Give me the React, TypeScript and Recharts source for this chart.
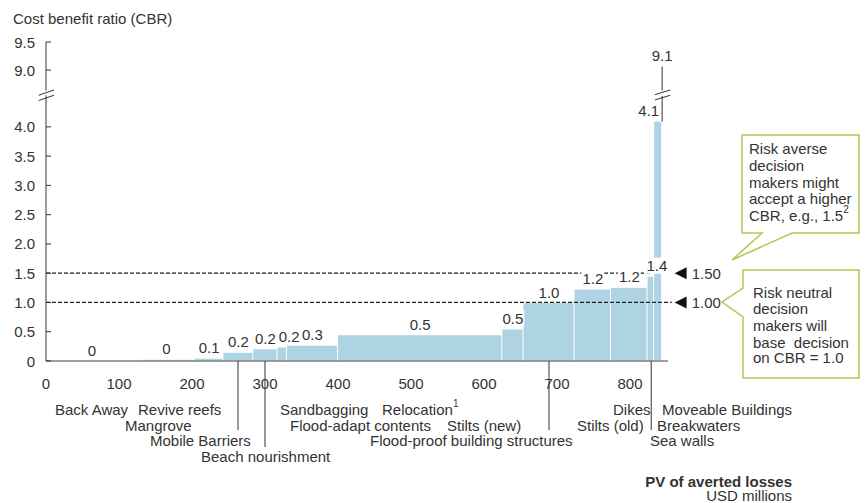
import React from "react";
import {
  ComposedChart,
  Line,
  XAxis,
  YAxis,
  ReferenceArea,
  ReferenceLine,
  ReferenceDot,
} from "recharts";

// adaptation measures, sorted by cost benefit ratio; bar width = PV of averted losses (USD m)
const measureStart = [0, 126, 204, 243, 284, 317, 330, 400, 625, 654, 724, 774, 824, 833];
const measureEnd = [126, 204, 243, 284, 317, 330, 400, 625, 654, 724, 774, 824, 833, 844];
// drawn height; the last bar is cut at the axis break (real value 9.1)
const measureCbr = [0, 0.02, 0.04, 0.14, 0.2, 0.23, 0.26, 0.44, 0.54, 0.99, 1.22, 1.25, 1.44, 4.09];
const measureCbrLabel = ["0", "0", "0.1", "0.2", "0.2", "0.2", "0.3", "0.5", "0.5", "1.0", "1.2", "1.2", "1.4", "4.1"];
const cutBarValue = "9.1";

const xTicks = [0, 100, 200, 300, 400, 500, 600, 700, 800];
// axis is broken above 4.0 — 9.0 and 9.5 sit just over the break
const yTickValues = [0, 0.5, 1, 1.5, 2, 2.5, 3, 3.5, 4, 4.97, 5.45];
const yTickLabels = ["0", "0.5", "1.0", "1.5", "2.0", "2.5", "3.0", "3.5", "4.0", "9.0", "9.5"];

const thresholdValues = [1.0, 1.5];
const thresholdLabels = ["1.00", "1.50"];

const categoryNames = [
  "Back Away", "Revive reefs", "Sandbagging", "Relocation", "Dikes", "Moveable Buildings",
  "Mangrove", "Flood-adapt contents", "Stilts (new)", "Stilts (old)", "Breakwaters",
  "Mobile Barriers", "Flood-proof building structures", "Sea walls",
  "Beach nourishment",
];
// [left x, row]
const categoryPos: [number, number][] = [
  [55, 0], [138, 0], [280, 0], [382, 0], [613, 0], [662, 0],
  [125, 1], [290, 1], [447, 1], [577, 1], [657, 1],
  [150, 2], [370, 2], [650, 2],
  [201, 3],
];
const rowY = [409, 425, 440, 456];

// leader lines below the axis (x in USD m, bottom in chart units)
const leaderX = [263, 300, 689, 829];
const leaderBottom = [-1.18, -1.47, -1.18, -1.18];

const W = 867;
const H = 503;
const FONT = '"Liberation Sans", Arial, Helvetica, sans-serif';
const TEXT = "#333";
const BAR = "#aed3e3";
const GREEN = "#b2c752";
const Y_MAX = 5.45;

const YTick = (p: any) => {
  const i = yTickValues.indexOf(p.payload.value);
  return (
    <g>
      <line x1={p.x} x2={p.x + 5} y1={p.y} y2={p.y} stroke={TEXT} strokeWidth={1} />
      <text x={p.x - 11} y={p.y} textAnchor="end" dominantBaseline="central" fontSize={15} fill={TEXT} fontFamily={FONT}>
        {yTickLabels[i]}
      </text>
    </g>
  );
};

const XTick = (p: any) => (
  <text x={p.x} y={p.y + 22} textAnchor="middle" dominantBaseline="central" fontSize={15} fill={TEXT} fontFamily={FONT}>
    {p.payload.value}
  </text>
);

const nudge: Record<number, number> = { 5: 7, 12: 6 };

function ValueLabel({ cx, cy, label, dx = 0, anchor = "middle" }: any) {
  const w = label.length === 1 ? 9 : 21;
  const x = cx + dx;
  const left = anchor === "end" ? x - w : x - w / 2;
  return (
    <g>
      <rect x={left - 1} y={cy - 19} width={w + 2} height={16} fill="#fff" />
      <text x={x} y={cy - 11} textAnchor={anchor} dominantBaseline="central" fontSize={15} fill={TEXT} fontFamily={FONT}>
        {label}
      </text>
    </g>
  );
}

export default function App() {
  const data = measureStart.map((s, i) => ({ x: (s + measureEnd[i]) / 2, y: measureCbr[i] }));
  const last = measureStart.length - 1;

  return (
    <div style={{ position: "absolute", left: 0, top: 0, width: W, height: H, background: "#fff" }}>
      <ComposedChart width={W} height={H} data={data} margin={{ top: 42, right: 199, bottom: 112, left: 6 }}>
        <XAxis
          dataKey="x"
          type="number"
          domain={[0, 852]}
          ticks={xTicks}
          axisLine={false}
          tickLine={false}
          tickSize={0}
          tickMargin={0}
          tick={<XTick />}
          height={30}
        />
        <YAxis
          dataKey="y"
          type="number"
          domain={[0, Y_MAX]}
          ticks={yTickValues}
          axisLine={false}
          tickLine={false}
          tickSize={0}
          tickMargin={0}
          tick={<YTick />}
          width={40}
        />
        {/* invisible carrier series so both axes get a scale */}
        <Line dataKey="y" stroke="none" dot={false} activeDot={false} isAnimationActive={false} />

        {measureStart.map((s, i) => (
          <ReferenceArea
            key={`bar-${i}`}
            x1={s}
            x2={measureEnd[i]}
            y1={0}
            y2={measureCbr[i]}
            ifOverflow="visible"
            shape={(p: any) => (
              <rect x={p.x} y={p.y} width={Math.max(p.width - 1, 0.5)} height={p.height} fill={BAR} />
            )}
          />
        ))}

        {/* axes */}
        <ReferenceLine segment={[{ x: 0, y: 0 }, { x: 852, y: 0 }]} stroke="#808080" strokeWidth={1.5} ifOverflow="visible" />
        <ReferenceLine segment={[{ x: 0, y: 0 }, { x: 0, y: 4.54 }]} stroke={TEXT} strokeWidth={1} ifOverflow="visible" />
        <ReferenceLine segment={[{ x: 0, y: 4.62 }, { x: 0, y: Y_MAX }]} stroke={TEXT} strokeWidth={1} ifOverflow="visible" />
        <ReferenceLine segment={[{ x: -10, y: 4.45 }, { x: 11, y: 4.54 }]} stroke={TEXT} strokeWidth={1} ifOverflow="visible" />
        <ReferenceLine segment={[{ x: -10, y: 4.54 }, { x: 11, y: 4.63 }]} stroke={TEXT} strokeWidth={1} ifOverflow="visible" />

        {/* cut bar: real value above the break */}
        <ReferenceLine segment={[{ x: 844, y: measureCbr[last] }, { x: 844, y: 4.53 }]} stroke={TEXT} strokeWidth={1} ifOverflow="visible" />
        <ReferenceLine segment={[{ x: 844, y: 4.62 }, { x: 844, y: 5.03 }]} stroke={TEXT} strokeWidth={1} ifOverflow="visible" />
        <ReferenceLine segment={[{ x: 834, y: 4.46 }, { x: 855, y: 4.54 }]} stroke={TEXT} strokeWidth={1} ifOverflow="visible" />
        <ReferenceLine segment={[{ x: 834, y: 4.55 }, { x: 855, y: 4.63 }]} stroke={TEXT} strokeWidth={1} ifOverflow="visible" />

        {/* decision thresholds */}
        <ReferenceLine segment={[{ x: 0, y: 1 }, { x: 857, y: 1 }]} stroke="#222" strokeWidth={1.3} strokeDasharray="4 2" ifOverflow="visible" />
        <ReferenceLine segment={[{ x: 0, y: 1.5 }, { x: 830, y: 1.5 }]} stroke="#222" strokeWidth={1.3} strokeDasharray="4 2" ifOverflow="visible" />

        {leaderX.map((x, i) => (
          <ReferenceLine
            key={`lead-${i}`}
            segment={[{ x, y: 0 }, { x, y: leaderBottom[i] }]}
            stroke={TEXT}
            strokeWidth={1}
            ifOverflow="visible"
          />
        ))}

        {measureStart.map((s, i) => (
          <ReferenceDot
            key={`lbl-${i}`}
            x={i === last ? measureEnd[i] : (s + measureEnd[i]) / 2}
            y={measureCbr[i]}
            ifOverflow="visible"
            shape={(p: any) =>
              i === last ? (
                <ValueLabel cx={p.cx} cy={p.cy} label={measureCbrLabel[i]} dx={-3} anchor="end" />
              ) : (
                <ValueLabel cx={p.cx} cy={p.cy} label={measureCbrLabel[i]} dx={nudge[i] || 0} />
              )
            }
          />
        ))}
        <ReferenceDot
          x={844}
          y={5.03}
          ifOverflow="visible"
          shape={(p: any) => (
            <text x={p.cx} y={p.cy - 11} textAnchor="middle" dominantBaseline="central" fontSize={15} fill={TEXT} fontFamily={FONT}>
              {cutBarValue}
            </text>
          )}
        />

        {thresholdValues.map((v, i) => (
          <ReferenceDot
            key={`thr-${i}`}
            x={857}
            y={v}
            ifOverflow="visible"
            shape={(p: any) => (
              <g>
                <polygon points={`${p.cx + 3},${p.cy} ${p.cx + 15},${p.cy - 6} ${p.cx + 15},${p.cy + 6}`} fill="#111" />
                <text x={p.cx + 20} y={p.cy} dominantBaseline="central" fontSize={15} fill={TEXT} fontFamily={FONT}>
                  {thresholdLabels[i]}
                </text>
              </g>
            )}
          />
        ))}
      </ComposedChart>

      <svg width={W} height={H} style={{ position: "absolute", left: 0, top: 0, pointerEvents: "none" }}>
        <g fontFamily={FONT} fontSize={15} fill={TEXT}>
          <text x={13} y={18} dominantBaseline="central">Cost benefit ratio (CBR)</text>

          {categoryNames.map((n, i) => (
            <text key={n} x={categoryPos[i][0]} y={rowY[categoryPos[i][1]]} dominantBaseline="central">
              {n}
              {n === "Relocation" && (
                <tspan fontSize={10} dy={-6}>1</tspan>
              )}
            </text>
          ))}

          <text x={792} y={481} textAnchor="end" dominantBaseline="central" fontWeight="bold">
            PV of averted losses
          </text>
          <text x={792} y={495} textAnchor="end" dominantBaseline="central">USD millions</text>

          <path d="M742,135 H859 V233 H792 L732,260 L762,233 H742 Z" fill="#fff" stroke={GREEN} strokeWidth={1.5} />
          <text x={749} y={148} dominantBaseline="central">Risk averse</text>
          <text x={749} y={165} dominantBaseline="central">decision</text>
          <text x={749} y={182} dominantBaseline="central">makers might</text>
          <text x={749} y={198} dominantBaseline="central">accept a higher</text>
          <text x={749} y={215} dominantBaseline="central">
            CBR, e.g., 1.5<tspan fontSize={10} dy={-6}>2</tspan>
          </text>

          <path d="M743,270 H859 V378 H743 V317 L722,302 L743,288 Z" fill="#fff" stroke={GREEN} strokeWidth={1.5} />
          <text x={753} y={292} dominantBaseline="central">Risk neutral</text>
          <text x={753} y={308} dominantBaseline="central">decision</text>
          <text x={753} y={325} dominantBaseline="central">makers will</text>
          <text x={753} y={342} dominantBaseline="central" style={{ whiteSpace: "pre" }}>base  decision</text>
          <text x={753} y={357} dominantBaseline="central">on CBR = 1.0</text>
        </g>
      </svg>
    </div>
  );
}
